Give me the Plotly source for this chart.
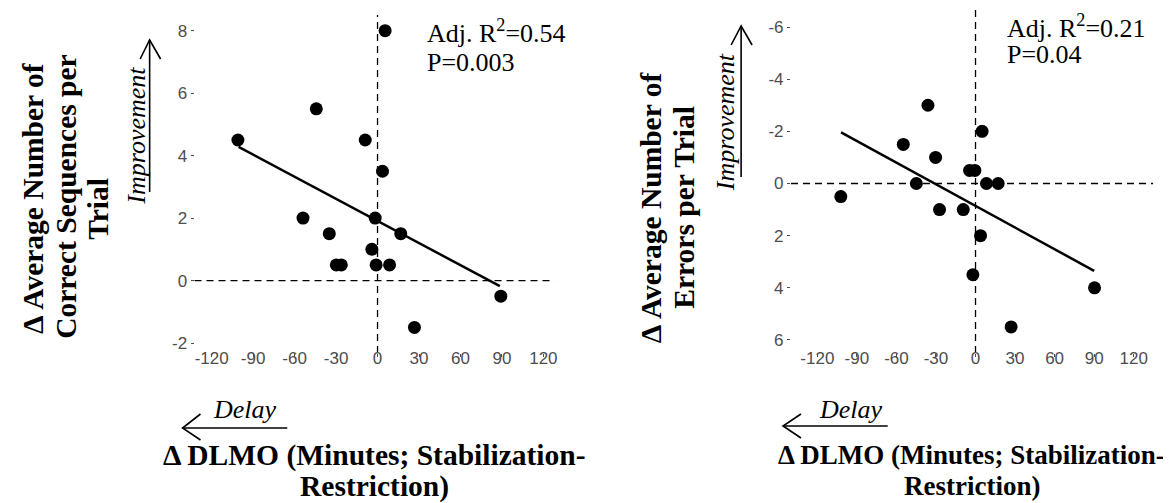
import plotly.graph_objects as go

# ---------------- data ----------------
# Left panel: change in correct sequences vs change in DLMO
left_x = [5.5, -44.3, -101.0, -8.9, 3.6, -1.7, -53.9, -34.9, 16.8, -4.1, -29.8, -26.2, -1.0, 8.7, 89.2, 26.7]
left_y = [8.0, 5.5, 4.5, 4.5, 3.5, 2.0, 2.0, 1.5, 1.5, 1.0, 0.5, 0.5, 0.5, 0.5, -0.5, -1.5]
left_fit_x = [-100.5, 88.5]
left_fit_y = [4.28, -0.18]
left_stats = ["Adj. R<sup>2</sup>=0.54", "P=0.003"]

# Right panel: change in errors vs change in DLMO
right_x = [-36.1, 5.0, -54.8, -30.3, -4.5, -0.5, -44.9, 8.3, 17.2, -102.2, -27.3, -9.3, 3.8, -2.0, 90.3, 27.0]
right_y = [-3.0, -2.0, -1.5, -1.0, -0.5, -0.5, 0.0, 0.0, 0.0, 0.5, 1.0, 1.0, 2.0, 3.5, 4.0, 5.5]
right_fit_x = [-102.0, 90.0]
right_fit_y = [-1.96, 3.35]
right_stats = ["Adj. R<sup>2</sup>=0.21", "P=0.04"]

x_ticks = [-120, -90, -60, -30, 0, 30, 60, 90, 120]
left_y_ticks = [-2, 0, 2, 4, 6, 8]
right_y_ticks = [-6, -4, -2, 0, 2, 4, 6]

left_ytitle = ["Δ Average Number of", "Correct Sequences per", "Trial"]
right_ytitle = ["Δ Average Number of", "Errors per Trial"]
xtitle = ["Δ DLMO (Minutes; Stabilization-", "Restriction)"]

# ---------------- layout helpers ----------------
W, H = 1171, 503
def px(x):
    return x / W
def py(y):
    return 1 - y / H

SERIF = "Liberation Serif"
SANS = "Liberation Sans"
TICK_COLOR = "#4d4d4d"

def labels(vals):
    return [str(v) for v in vals]  # plain hyphen-minus like the reference

fig = go.Figure()

marker = dict(size=13, color="black")
fig.add_trace(go.Scatter(x=left_x, y=left_y, mode="markers", marker=marker,
                         xaxis="x", yaxis="y", showlegend=False))
fig.add_trace(go.Scatter(x=left_fit_x, y=left_fit_y, mode="lines",
                         line=dict(color="black", width=2.5),
                         xaxis="x", yaxis="y", showlegend=False))
fig.add_trace(go.Scatter(x=right_x, y=right_y, mode="markers", marker=marker,
                         xaxis="x2", yaxis="y2", showlegend=False))
fig.add_trace(go.Scatter(x=right_fit_x, y=right_fit_y, mode="lines",
                         line=dict(color="black", width=2.5),
                         xaxis="x2", yaxis="y2", showlegend=False))

axis_common = dict(showgrid=False, zeroline=False, showline=False,
                   ticks="outside", ticklen=3, tickwidth=1, tickcolor=TICK_COLOR,
                   tickfont=dict(family=SANS, size=17, color=TICK_COLOR))

fig.update_layout(
    width=W, height=H,
    margin=dict(l=0, r=0, t=0, b=0),
    paper_bgcolor="white", plot_bgcolor="white",
    xaxis=dict(domain=[px(187), px(548)], range=[-132.4, 128.1], anchor="y",
               tickvals=x_ticks, ticktext=labels(x_ticks), ticklabelstandoff=-13,
               **axis_common),
    yaxis=dict(domain=[py(345), py(7)], range=[-2.32, 8.503], anchor="x",
               tickvals=left_y_ticks, ticktext=labels(left_y_ticks), **axis_common),
    xaxis2=dict(domain=[px(785), px(1148)], range=[-140.0, 134.7], anchor="y2",
                tickvals=x_ticks, ticktext=labels(x_ticks), ticklabelstandoff=-13,
                **axis_common),
    yaxis2=dict(domain=[py(345), py(0)], range=[6.5, -6.73], anchor="x2",
                tickvals=right_y_ticks, ticktext=labels(right_y_ticks), **axis_common),
)

# dashed reference lines at zero
dash_line = dict(color="black", width=1.3, dash="7px,5px")
for xr, yr in (("x", "y"), ("x2", "y2")):
    fig.add_shape(type="line", xref=xr + " domain", yref=yr, x0=0, x1=1, y0=0, y1=0,
                  line=dash_line, layer="below")
    fig.add_shape(type="line", xref=xr, yref=yr + " domain", x0=0, x1=0, y0=0, y1=1,
                  line=dash_line, layer="below")

def ann(text, x, y, size, angle=0, xanchor="center", italic=False, bold=False):
    if bold:
        text = "<b>" + text + "</b>"
    if italic:
        text = "<i>" + text + "</i>"
    fig.add_annotation(text=text, x=px(x), y=py(y), xref="paper", yref="paper",
                       showarrow=False, textangle=angle, xanchor=xanchor, yanchor="middle",
                       font=dict(family=SERIF, size=size, color="black"))

# statistics text
ann(left_stats[0], 418, 24, 26, xanchor="left")
ann(left_stats[1], 418, 54, 26, xanchor="left")
ann(right_stats[0], 1000, 18, 26, xanchor="left")
ann(right_stats[1], 1000, 47, 26, xanchor="left")

# y titles (one annotation per line for tight leading)
for txt, xc, yc in zip(left_ytitle, [25, 58, 90], [190, 188, 201]):
    ann(txt, xc, yc, 29.5, angle=-90, bold=True)
for txt, xc, yc in zip(right_ytitle, [645, 677], [199, 199.5]):
    ann(txt, xc, yc, 29.5, angle=-90, bold=True)

# x titles
ann(xtitle[0], 367, 447, 29.5, bold=True)
ann(xtitle[1], 367, 478, 29.5, bold=True)
ann(xtitle[0], 966, 447, 27, bold=True)
ann(xtitle[1], 966, 478, 27, bold=True)

# direction labels
ann("Improvement", 129, 128, 26, angle=-90, italic=True)
ann("Improvement", 719, 114, 26, angle=-90, italic=True)
ann("Delay", 238, 401, 26, italic=True)
ann("Delay", 845, 401, 26, italic=True)

# arrows (decorations in paper coordinates)
def path(points):
    return "M " + " L ".join(f"{px(a):.5f},{py(b):.5f}" for a, b in points)

arrow_line = dict(color="black", width=1.6)
arrows = [
    [(142, 184), (142, 32)], [(132.5, 51), (142, 32), (153, 51)],
    [(735, 169), (735, 18)], [(725, 37), (735, 18), (746, 37)],
    [(280, 420), (175, 420)], [(193, 406), (175, 420), (193, 432)],
    [(882, 418), (777, 418)], [(795, 406), (777, 418), (795, 430)],
]
for pts in arrows:
    fig.add_shape(type="path", xref="paper", yref="paper", path=path(pts), line=arrow_line)

fig.write_html("out.html")
